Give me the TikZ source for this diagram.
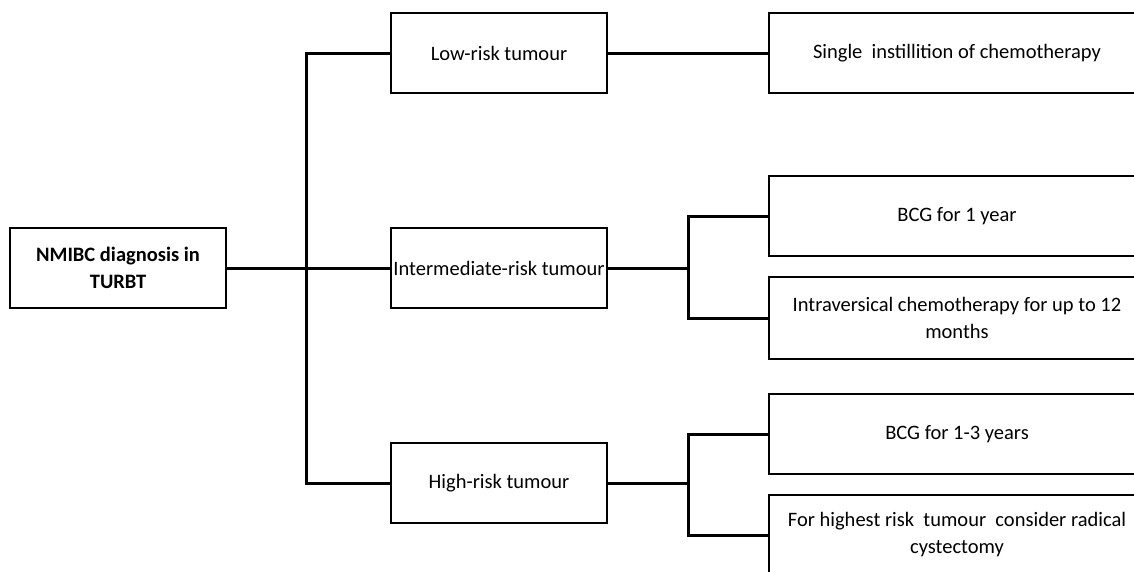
\documentclass[tikz,border=0pt]{standalone}
\usepackage{fontspec}
\setmainfont{Carlito}
\begin{document}
\begin{tikzpicture}[x=1pt,y=-1pt,
  box/.style={draw,black,line width=2.6pt,minimum width=216pt,minimum height=80pt,inner sep=0pt,align=center,font=\fontsize{20.5}{27}\selectfont},
  rbox/.style={box,minimum width=376pt},
  conn/.style={draw,black,line width=3pt}]
\useasboundingbox (0,0) rectangle (1134,571);
\clip (0,0) rectangle (1134,571);
\node[box,font=\fontsize{20.5}{27}\selectfont\bfseries] (nm) at (118,268) {NMIBC diagnosis in\\TURBT};
\node[box] (low) at (499,53) {Low-risk tumour};
\node[box] (mid) at (499,268) {Intermediate-risk tumour};
\node[box] (high) at (499,483) {High-risk tumour};
\node[rbox] (single) at (957,53) {Single\ \ instillition of chemotherapy};
\node[rbox] (bcg1) at (957,216) {BCG for 1 year};
\node[rbox,minimum height=82pt] (ive) at (957,318) {Intraversical chemotherapy for up to 12\\months};
\node[rbox] (bcg13) at (957,434) {BCG for 1-3 years};
\node[rbox] (cyst) at (957,535) {For highest risk\ \ tumour\ \ consider radical\\cystectomy};
\coordinate (j2) at (688,268);
\coordinate (j3) at (688,483);
\path[conn] (low.west) -- ++(-83,0) |- (high.west);
\path[conn] (nm.east) -- (mid.west);
\path[conn] (low.east) -- (single.west);
\path[conn] (mid.east) -- (j2);
\path[conn] (bcg1.west) -| (j2) |- (ive.west);
\path[conn] (high.east) -- (j3);
\path[conn] (bcg13.west) -| (j3) |- (cyst.west);
\end{tikzpicture}
\end{document}
